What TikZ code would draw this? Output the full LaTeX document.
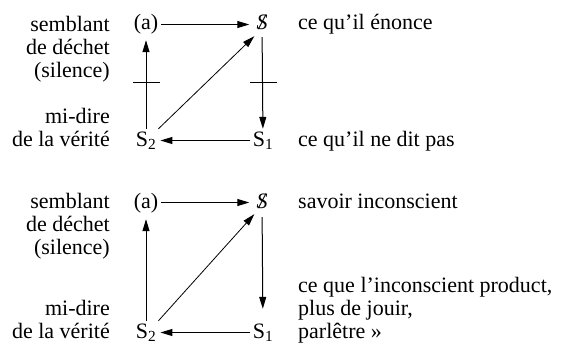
\documentclass[tikz,border=0pt]{standalone}
\usepackage{fontspec}
\setmainfont{Liberation Serif}
\usepackage{tikz}
\usetikzlibrary{
	arrows.meta,
	positioning,
	calc
}

\newcommand{\barS}{\ooalign{\itshape S\cr\hidewidth\itshape /\hidewidth\cr}}

\tikzset{
	every node/.style={font=\fontsize{22}{23}\selectfont},
	term/.style={inner sep=2pt, anchor=base, text height=15pt, text depth=4pt},
	lab/.style={inner sep=0pt, anchor=base east, align=right},
	note/.style={inner sep=0pt, anchor=base west, align=left},
	flow/.style={-{Triangle[length=12pt,width=7pt]}, line width=1pt},
}

\begin{document}
\begin{tikzpicture}[x=1pt,y=-1pt]
		
		\useasboundingbox (0,0) rectangle (561,345);
		
		% first discourse
		\node[term] (a1) at (146,30) {(a)};
		\node[term] (sb1) at (262,30) {\barS};
		\node[term] (s2a) at (146,146) {S\textsubscript{2}};
		\node[term] (s1a) at (263,146) {S\textsubscript{1}};
		
		\draw[flow, shorten <=1pt, shorten >=5pt] (a1) -- (sb1);
		\draw[flow, shorten <=1pt] (sb1) -- (s1a);
		\draw[flow, shorten <=1pt, shorten >=2pt] (s1a) -- (s2a);
		\draw[flow, shorten >=4pt] (s2a) -- (a1);
		\draw[flow, line width=0.8pt] (s2a.north east) -- (sb1.south west);
		
		% bars
		\foreach \x in {146,263}
		\draw[line width=0.8pt] (\x-13,82) -- (\x+14,82);
		
		\node[lab] (sem1) at (110,77) {semblant\\de déchet\\(silence)};
		\node[lab] (mid1) at (110,146) {mi-dire\\de la vérité};
		\node[note] (enon) at (298,30) {ce qu’il énonce};
		\node[note] (dit) at (298,146) {ce qu’il ne dit pas};
		
		% second discourse
		\node[term] (a2) at (146,208) {(a)};
		\node[term] (sb2) at (262,208) {\barS};
		\node[term] (s2b) at (146,338) {S\textsubscript{2}};
		\node[term] (s1b) at (263,338) {S\textsubscript{1}};
		
		\draw[flow, shorten <=1pt, shorten >=5pt] (a2) -- (sb2);
		\draw[flow, shorten <=3pt, shorten >=12pt] (sb2) -- (s1b);
		\draw[flow, shorten <=1pt, shorten >=2pt] (s1b) -- (s2b);
		\draw[flow, shorten >=5pt] (s2b) -- (a2);
		\draw[flow, line width=0.8pt] (s2b.north east) -- (sb2.south west);
		
		\node[lab] (sem2) at (110,254) {semblant\\de déchet\\(silence)};
		\node[lab] (mid2) at (110,338) {mi-dire\\de la vérité};
		\node[note] (sav) at (298,208) {savoir inconscient};
		\node[note] (prod) at (298,338) {ce que l’inconscient product,\\plus de jouir,\\parlêtre »};
		
	\end{tikzpicture}
\end{document}
